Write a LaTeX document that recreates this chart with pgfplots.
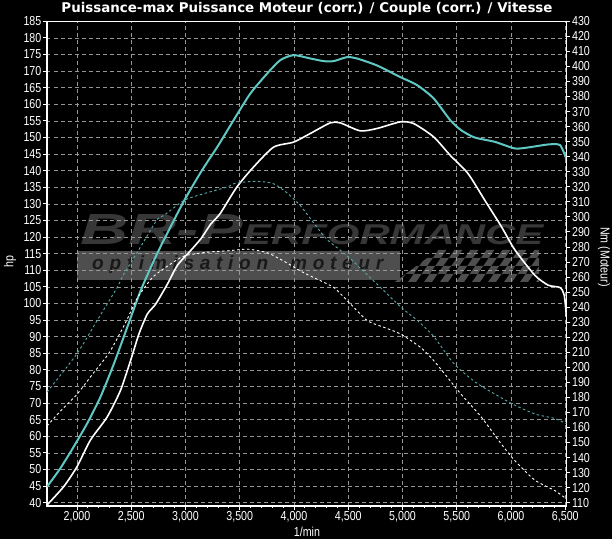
\documentclass[border=0pt]{standalone}
\usepackage{fontspec}
\setmainfont{Liberation Sans}
\newfontfamily\narrowfont[FakeStretch=0.82]{Liberation Sans}
\newfontfamily\titlefont{DejaVu Sans}
\newfontfamily\logofont[LetterSpace=30]{Liberation Sans}
\usepackage{pgfplots}
\pgfplotsset{compat=1.18}
\usepackage{graphicx}
\definecolor{cyanline}{RGB}{95,200,195}
\definecolor{cyandash}{RGB}{85,170,170}
\definecolor{gridcol}{RGB}{150,150,150}
\definecolor{logocol}{RGB}{55,55,55}
\definecolor{bandcol}{RGB}{78,78,78}
\begin{document}
\begin{tikzpicture}[x=1bp,y=1bp]
\fill[black] (-47,-33) rectangle (565,506);
% watermark (decoration)
\fill[bandcol] (30,226) rectangle (353,255);
\begin{scope}
\clip (345,222) -- (492,222) -- (492,259) -- (395,259) -- cycle;
\begin{scope}[shift={(345,224)},xslant=0.7]
\foreach \i in {0,...,20}{\foreach \j in {0,1,2,3}{%
\pgfmathtruncatemacro\k{mod(\i+\j,2)}%
\ifnum\k=0 \fill[bandcol] (\i*8,\j*8) rectangle ++(8,8);\fi}}
\end{scope}
\end{scope}
\node[anchor=base west,inner sep=0,text=logocol] at (33,261) {\resizebox{163bp}{30bp}{\bfseries\itshape BR-P}};
\node[anchor=base west,inner sep=0,text=logocol] at (196,261) {\resizebox{300bp}{20bp}{\bfseries\itshape ERFORMANCE}};
\node[anchor=base west,inner sep=0,text=black!90] at (45,236) {\resizebox{291bp}{!}{\logofont\fontsize{19bp}{20bp}\selectfont\bfseries\itshape optimisation\ \ moteur}};
\begin{axis}[
  at={(0,0)},anchor=south west,
  scale only axis,width=519.4bp,height=484.7bp,
  xmin=1724,xmax=6510,ymin=39,ymax=185,
  axis line style={white,line width=1.2bp},
  xtick={2000,2500,...,6500},
  xticklabels={{2,000},{2,500},{3,000},{3,500},{4,000},{4,500},{5,000},{5,500},{6,000},{6,500}},
  minor x tick num=4,
  ytick={40,45,...,185},
  xtick pos=bottom, ytick pos=left,
  tick align=outside,
  major tick length=4bp, minor tick length=2bp,
  tick style={white,line width=0.8bp},
  xmajorgrids,ymajorgrids,
  major grid style={gridcol,line width=0.7bp,dash pattern=on 3.5bp off 3.5bp},
  ticklabel style={font=\narrowfont\fontsize{13bp}{14bp}\selectfont,text=white,inner sep=1.5bp},
  /pgf/number format/assume math mode=true,
]
% power after (cyan)
\addplot[cyanline,line width=2bp,smooth,tension=0.4] coordinates {
(1724,44.8)(1846,50.3)(1969,56.8)(2093,63.8)(2216,71.8)(2340,81.8)(2463,92.8)
(2586,103.8)(2710,113.0)(2802,119.2)(2988,131.0)(3150,140.0)(3300,147.5)(3443,155.2)
(3597,163.2)(3751,169.2)(3874,173.3)(3996,174.8)(4150,173.8)(4273,173.0)(4365,173.0)
(4488,174.2)(4580,173.8)(4764,171.7)(4979,168.2)(5133,165.8)(5286,161.8)(5440,155.2)
(5540,152.2)(5664,150.0)(5849,148.7)(6034,146.7)(6157,147.0)(6343,147.9)(6451,147.7)(6510,143.5)};
% power before (white)
\addplot[white,line width=1.6bp,smooth,tension=0.4] coordinates {
(1724,39.3)(1877,44.8)(2000,50.8)(2123,58.8)(2278,65.8)(2401,73.8)(2494,82.8)
(2571,90.8)(2648,96.8)(2725,99.8)(2833,105.8)(2926,111.5)(3049,116.0)(3142,119.5)
(3235,124.0)(3320,127.1)(3474,135.1)(3627,141.1)(3812,147.1)(3996,148.6)(4150,151.2)
(4334,154.4)(4426,154.4)(4610,152.0)(4764,152.7)(4979,154.7)(5102,154.2)(5286,150.2)
(5440,144.6)(5602,139.2)(5756,131.2)(5910,123.2)(6034,116.2)(6219,108.5)(6343,105.5)
(6451,104.8)(6490,102.5)(6510,96.0)};
\end{axis}
\begin{axis}[
  at={(0,0)},anchor=south west,
  scale only axis,width=519.4bp,height=484.7bp,
  xmin=1724,xmax=6510,ymin=107.793,ymax=430,
  axis x line=none, axis y line*=right,
  axis line style={white,line width=1.2bp},
  ytick={110,120,...,430},
  tick align=outside,
  major tick length=4bp,
  tick style={white,line width=0.8bp},
  ticklabel style={font=\narrowfont\fontsize{13bp}{14bp}\selectfont,text=white,inner sep=1.5bp},
  /pgf/number format/assume math mode=true,
]
% torque after (cyan dashed)
\addplot[cyandash,line width=0.9bp,dash pattern=on 2.5bp off 2.5bp,smooth,tension=0.4] coordinates {
(1724,183.5)(2000,209)(2185,231)(2370,253)(2432,262)(2586,280)(2737,298)(2802,301)
(2988,311)(3150,315)(3389,320)(3443,322)(3574,323.4)(3689,323.5)(3812,322)(3935,316)
(4058,307.5)(4181,296)(4304,285)(4491,274)(4769,255)(4985,240)(5139,231)(5293,220)
(5478,202)(5694,189)(6003,176)(6219,169)(6400,166)(6510,162.5)};
% torque before (white dashed)
\addplot[white,line width=0.9bp,dash pattern=on 2.5bp off 2.5bp,smooth,tension=0.4] coordinates {
(1724,161)(1850,171)(2000,182)(2150,196)(2300,210)(2450,230)(2556,246)(2700,260)
(2850,268)(2988,274)(3200,276.5)(3400,277.5)(3574,278.5)(3759,276)(3944,269)(4059,264)
(4200,259)(4367,253)(4522,242)(4676,231)(4850,226)(4985,222)(5170,213)(5293,204)
(5417,193)(5540,182)(5725,167)(5910,149)(6034,138)(6219,125)(6404,118)(6510,112.5)};
\end{axis}
\node[text=white,inner sep=0] at (260,497) {\resizebox{491bp}{!}{\titlefont\bfseries Puissance-max Puissance Moteur (corr.) / Couple (corr.) / Vitesse}};
\node[text=white,inner sep=0,rotate=90,font=\narrowfont\fontsize{13bp}{14bp}\selectfont] at (-37,244) {hp};
\node[text=white,inner sep=0,rotate=-90,font=\narrowfont\fontsize{13bp}{14bp}\selectfont] at (557,249) {Nm (Moteur)};
\node[text=white,inner sep=0,font=\narrowfont\fontsize{13bp}{14bp}\selectfont] at (260,-26) {1/min};
\pgfresetboundingbox
\useasboundingbox (-47,-33) rectangle (565,506);
\end{tikzpicture}
\end{document}
